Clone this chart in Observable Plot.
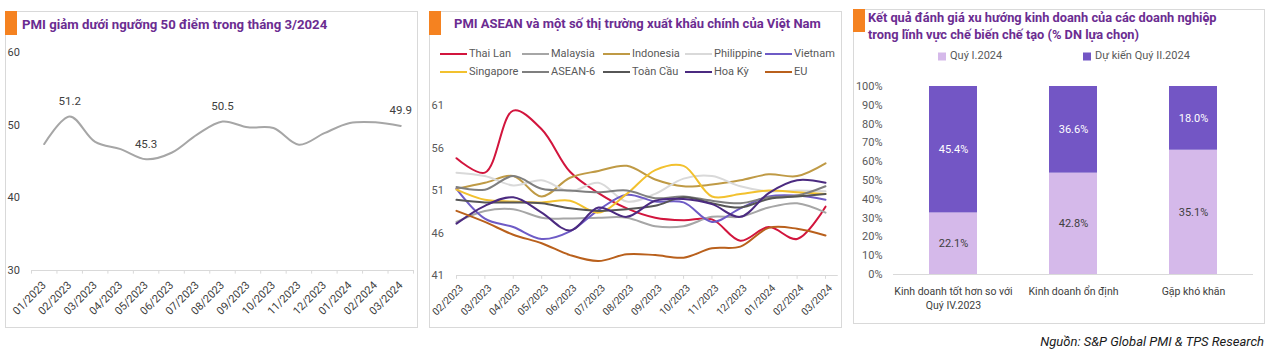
<!DOCTYPE html>
<html><head><meta charset="utf-8">
<script src="https://cdn.jsdelivr.net/npm/d3@7"></script>
<script src="https://cdn.jsdelivr.net/npm/@observablehq/plot@0.6"></script>
<style>
body{margin:0;background:#fff;font-family:Roboto,"Noto Sans",sans-serif;}
#root{position:relative;width:1271px;height:352px;overflow:hidden;background:#fff;}
.panel{position:absolute;border:1px solid #d9d9d9;box-sizing:border-box;}
.obar{position:absolute;background:#f58220;}
.title{position:absolute;color:#6b2c91;font-weight:700;font-size:13px;white-space:nowrap;line-height:16px;}
.chart{position:absolute;}
.leg{position:absolute;font-size:11px;color:#595959;white-space:nowrap;line-height:14px;display:flex;align-items:center;}
.src{position:absolute;right:7px;top:334px;font-style:italic;font-size:13px;color:#1a1a1a;line-height:16px;}
</style></head><body><div id="root">
<div class="panel" style="left:5px;top:11px;width:413px;height:317px"></div>
<div class="panel" style="left:429px;top:11px;width:413px;height:317px"></div>
<div class="panel" style="left:853px;top:9px;width:412px;height:315px"></div>
<div class="obar" style="left:5px;top:11px;width:12px;height:24px"></div>
<div class="obar" style="left:429px;top:11px;width:12px;height:24px"></div>
<div class="obar" style="left:853px;top:9px;width:12px;height:23px"></div>
<div class="title" id="t1" style="left:22px;top:17px;font-size:13.2px"></div>
<div class="title" id="t2" style="left:454px;top:16px"></div>
<div class="title" id="t3" style="left:868px;top:10px;line-height:16.5px;font-size:12.8px"></div>
<div id="c1" class="chart" style="left:5px;top:40px"></div>
<div id="c2" class="chart" style="left:424px;top:90px"></div>
<div id="c3" class="chart" style="left:853px;top:80px"></div>
<div id="leg2"></div>
<div id="leg3"></div>
<div class="src" id="src"></div>
</div>
<script>
// ---------- Panel 1 data ----------
const title1 = "PMI giảm dưới ngưỡng 50 điểm trong tháng 3/2024";
const months1 = ["01/2023","02/2023","03/2023","04/2023","05/2023","06/2023","07/2023","08/2023","09/2023","10/2023","11/2023","12/2023","01/2024","02/2024","03/2024"];
const vnPMI = [47.4,51.2,47.7,46.7,45.3,46.2,48.7,50.5,49.7,49.6,47.3,48.9,50.3,50.4,49.9];
const labelledMonths = ["02/2023","05/2023","08/2023","03/2024"];
const yTicks1 = [30,40,50,60];

// ---------- Panel 2 data ----------
const title2 = "PMI ASEAN và một số thị trường xuất khẩu chính của Việt Nam";
const months2 = ["02/2023","03/2023","04/2023","05/2023","06/2023","07/2023","08/2023","09/2023","10/2023","11/2023","12/2023","01/2024","02/2024","03/2024"];
const thaiLan   = [54.8,53.1,60.4,58.2,53.2,50.7,48.9,47.8,47.5,47.6,45.1,46.7,45.3,49.1];
const malaysia  = [47.3,48.6,48.8,47.8,47.7,47.8,47.8,46.8,46.8,47.9,47.9,49.0,49.5,48.4];
const indonesia = [51.2,51.9,52.7,50.3,52.5,53.3,53.9,52.3,51.5,51.7,52.2,52.9,52.7,54.2];
const philippine= [53.1,52.7,51.6,52.2,50.9,51.9,49.7,50.6,52.4,52.7,51.5,50.9,51.0,50.9];
const vietnam   = [51.2,47.7,46.7,45.3,46.2,48.7,50.5,49.7,49.6,47.3,48.9,50.3,50.4,49.9];
const singapore = [51.1,49.9,49.7,49.6,49.8,48.4,50.6,53.4,53.9,50.3,50.6,51.0,50.8,50.6];
const asean6    = [51.4,51.1,52.7,51.2,51.0,50.8,51.0,50.1,50.3,49.8,49.5,50.2,50.4,51.5];
const toanCau   = [49.9,49.6,49.6,49.5,48.9,48.6,48.8,49.2,50.2,49.5,49.0,50.0,50.3,50.6];
const hoaKy     = [47.1,49.2,50.2,48.4,46.3,49.0,47.9,49.8,50.0,49.4,47.9,50.7,52.2,51.9];
const eu        = [48.6,47.3,45.8,44.8,43.4,42.7,43.5,43.4,43.1,44.2,44.4,46.6,46.5,45.7];
const seriesNames  = ["Thai Lan","Malaysia","Indonesia","Philippine","Vietnam","Singapore","ASEAN-6","Toàn Cầu","Hoa Kỳ","EU"];
const seriesValues = [thaiLan,malaysia,indonesia,philippine,vietnam,singapore,asean6,toanCau,hoaKy,eu];
const seriesColors = ["#d2153d","#a6a6a6","#bf9a45","#d9d9d9","#6e5bc6","#f2c12e","#7f7f7f","#565656","#4b2a80","#b9601c"];
const yTicks2 = [41,46,51,56,61];

// ---------- Panel 3 data ----------
const title3 = "Kết quả đánh giá xu hướng kinh doanh của các doanh nghiệp\ntrong lĩnh vực chế biến chế tạo (% DN lựa chọn)";
const categories3 = ["Kinh doanh tốt hơn so với\nQuý IV.2023","Kinh doanh ổn định","Gặp khó khăn"];
const groups3 = ["Quý I.2024","Dự kiến Quý II.2024"];
const quyI2024 = [22.1,42.8,35.1];
const duKienQuyII2024 = [45.4,36.6,18.0];
const groupColors3 = ["#d5b9ea","#7356c5"];
const yTicks3 = [0,10,20,30,40,50,60,70,80,90,100];

const source = "Nguồn: S&P Global PMI & TPS Research";

// ---------- text ----------
document.getElementById("t1").textContent = title1;
document.getElementById("t2").textContent = title2;
document.getElementById("t3").innerHTML = title3.split("\n").join("<br>");
document.getElementById("src").textContent = source;

const FONT = "Roboto, 'Noto Sans', sans-serif";

// ---------- Chart 1 ----------
const rows1 = months1.map((m,i)=>({m, i, v: vnPMI[i]}));
const c1 = Plot.plot({
  width: 413, height: 285,
  marginLeft: 26, marginRight: 5, marginTop: 12, marginBottom: 55,
  style: {fontFamily: FONT, background: "transparent"},
  x: {axis: null, domain: [0, 15]},
  y: {axis: null, domain: [30, 60]},
  marks: [
    Plot.ruleY([30], {stroke: "#d9d9d9"}),
    Plot.ruleX(d3.range(16), {x: d=>d, y1: 30, y2: 29.5, stroke: "#d9d9d9"}),
    Plot.text(yTicks1, {y: d=>d, text: d=>String(d), frameAnchor: "left", textAnchor: "start", dx: -24, fill: "#404040", fontSize: 11}),
    Plot.text(rows1, {x: d=>d.i+0.5, y: 30, text: d=>d.m, rotate: -45, textAnchor: "end", dx: 0, dy: 13, fill: "#404040", fontSize: 11}),
    Plot.line(rows1, {x: d=>d.i+0.5, y: "v", curve: "catmull-rom", stroke: "#a6a6a6", strokeWidth: 2}),
    Plot.text(rows1.filter(d=>labelledMonths.includes(d.m)), {x: d=>d.i+0.5, y: "v", text: d=>d.v.toFixed(1), dy: -15.5, fill: "#404040", fontSize: 11.5})
  ]
});
document.getElementById("c1").appendChild(c1);

// ---------- Chart 2 ----------
const rows2 = [];
seriesNames.forEach((name,k)=>seriesValues[k].forEach((v,i)=>rows2.push({name, i, v})));
const c2 = Plot.plot({
  width: 418, height: 237,
  marginLeft: 32, marginRight: 17, marginTop: 15, marginBottom: 52,
  style: {fontFamily: FONT, background: "transparent"},
  x: {axis: null, domain: [0, 13]},
  y: {axis: null, domain: [41, 61]},
  color: {domain: seriesNames, range: seriesColors},
  marks: [
    Plot.ruleY([41], {stroke: "#d9d9d9", x1: 0, x2: 13.45}),
    Plot.ruleX(d3.range(14), {x: d=>d, y1: 41, y2: 40.55, stroke: "#d9d9d9"}),
    Plot.text(yTicks2, {y: d=>d, text: d=>String(d), frameAnchor: "left", textAnchor: "start", dx: -25, fill: "#595959", fontSize: 11}),
    Plot.text(months2, {x: (d,i)=>i, y: 41, text: d=>d, rotate: -45, textAnchor: "end", dx: 5, dy: 11, fill: "#404040", fontSize: 10.2}),
    Plot.line(rows2, {x: "i", y: "v", z: "name", stroke: "name", curve: "catmull-rom", strokeWidth: 2})
  ]
});
document.getElementById("c2").appendChild(c2);

// legend 2
const leg2 = document.getElementById("leg2");
const legX2 = [440, 522, 603, 685, 765];
seriesNames.forEach((name,k)=>{
  const d = document.createElement("div");
  d.className = "leg";
  d.style.left = legX2[k%5] + "px";
  d.style.top = (k<5 ? 47 : 65) + "px";
  d.innerHTML = `<svg width="28" height="14" style="margin-right:1px"><line x1="0" x2="27" y1="7" y2="7" stroke="${seriesColors[k]}" stroke-width="2"/></svg><span>${name}</span>`;
  leg2.appendChild(d);
});

// ---------- Chart 3 ----------
const rows3 = [];
categories3.forEach((cat,i)=>{
  rows3.push({cat, group: groups3[0], value: quyI2024[i]});
  rows3.push({cat, group: groups3[1], value: duKienQuyII2024[i]});
});
const fmt3 = v => v.toFixed(1) + "%";
const c3 = Plot.plot({
  width: 412, height: 243,
  marginLeft: 40, marginRight: 12, marginTop: 6, marginBottom: 49,
  style: {fontFamily: FONT, background: "transparent"},
  x: {axis: null, domain: categories3, paddingInner: 0.6, paddingOuter: 0.3},
  y: {axis: null, domain: [0, 1]},
  color: {domain: groups3, range: groupColors3},
  marks: [
    Plot.barY(rows3, Plot.stackY({offset: "normalize", x: "cat", y: "value", fill: "group"})),
    Plot.ruleY([0], {stroke: "#d9d9d9"}),
    Plot.text(yTicks3, {y: d=>d/100, text: d=>d+"%", frameAnchor: "left", textAnchor: "end", dx: -11, fill: "#595959", fontSize: 11}),
    Plot.text(rows3, Plot.stackY({offset: "normalize", x: "cat", y: "value", text: d=>d.group===groups3[0] ? fmt3(d.value) : null, fill: "#404040", fontSize: 11})),
    Plot.text(rows3, Plot.stackY({offset: "normalize", x: "cat", y: "value", text: d=>d.group===groups3[1] ? fmt3(d.value) : null, fill: "white", fontSize: 11})),
    Plot.text(categories3, {x: d=>d, y: 0, text: d=>d, lineAnchor: "top", dy: 11, fill: "#404040", fontSize: 10.5, lineHeight: 1.3})
  ]
});
document.getElementById("c3").appendChild(c3);

// legend 3
const leg3 = document.getElementById("leg3");
const legX3 = [938, 1083];
groups3.forEach((g,k)=>{
  const d = document.createElement("div");
  d.className = "leg";
  d.style.left = legX3[k] + "px";
  d.style.top = "49px";
  d.innerHTML = `<svg width="9" height="9" style="margin-right:3px"><rect width="8" height="8" y="0.5" fill="${groupColors3[k]}"/></svg><span>${g}</span>`;
  leg3.appendChild(d);
});
</script>
</body></html>
